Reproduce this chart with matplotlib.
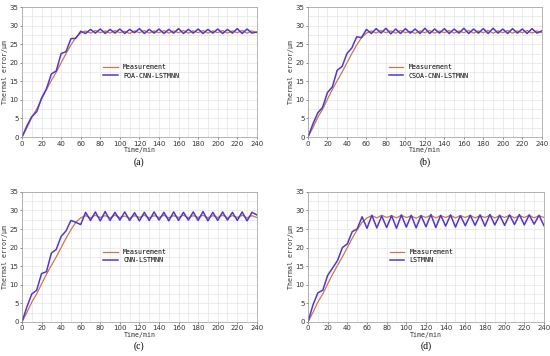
import numpy as np
import matplotlib
matplotlib.use("Agg")
import matplotlib.pyplot as plt

# Time axis (min), sampled every 5 min
time = list(range(0, 245, 5))

# Measured thermal error (um)
measurement = [0, 2.5, 5.3, 7.5, 10.2, 12.8, 15.2, 17.5, 20.0, 22.5, 24.8, 26.8, 28.0,
               28.6, 28.0, 28.7, 28.1, 28.6, 28.0, 28.7, 28.1, 28.5, 27.9, 28.6, 28.1,
               28.7, 28.0, 28.6, 28.1, 28.7, 28.0, 28.6, 28.1, 28.7, 28.0, 28.6, 28.1,
               28.7, 28.0, 28.6, 28.1, 28.7, 28.0, 28.6, 28.1, 28.7, 28.0, 28.6, 28.1]

poa_cnn_lstmnn = [0, 3.0, 5.5, 6.8, 10.5, 13.0, 17.0, 17.8, 22.5, 23.0, 26.5, 26.6, 28.5,
                  27.9, 29.0, 28.0, 29.1, 27.9, 29.0, 28.0, 29.1, 27.9, 29.0, 28.1, 29.2,
                  27.9, 29.0, 28.0, 29.1, 27.9, 29.0, 28.0, 29.2, 27.9, 29.0, 28.0, 29.1,
                  27.9, 29.0, 28.0, 29.1, 27.9, 29.0, 28.0, 29.2, 27.9, 29.1, 28.0, 28.3]

csoa_cnn_lstmnn = [0, 3.5, 6.5, 8.0, 12.0, 13.5, 18.0, 19.0, 22.5, 24.0, 27.0, 26.8, 29.0,
                   27.9, 29.2, 28.0, 29.3, 27.8, 29.1, 27.9, 29.2, 28.0, 29.1, 27.9, 29.3,
                   27.9, 29.1, 28.0, 29.2, 27.9, 29.1, 28.0, 29.3, 27.9, 29.1, 28.0, 29.2,
                   27.9, 29.3, 28.0, 29.1, 27.9, 29.2, 28.0, 29.1, 27.9, 29.2, 28.0, 28.6]

cnn_lstmnn = [0, 4.0, 7.5, 8.5, 13.0, 13.5, 18.5, 19.5, 23.0, 24.5, 27.3, 26.8, 26.2,
              29.5, 27.3, 29.6, 27.2, 29.7, 27.3, 29.5, 27.4, 29.6, 27.3, 29.4, 27.2,
              29.5, 27.3, 29.6, 27.4, 29.5, 27.2, 29.6, 27.3, 29.5, 27.4, 29.6, 27.3,
              29.7, 27.2, 29.5, 27.3, 29.6, 27.4, 29.5, 27.3, 29.6, 27.2, 29.5, 28.8]

lstmnn = [0, 4.5, 7.8, 8.5, 12.5, 14.5, 16.5, 20.0, 21.0, 24.3, 25.0, 28.3, 25.2,
          28.7, 25.3, 28.5, 25.4, 28.6, 25.2, 28.8, 25.5, 28.7, 25.3, 28.6, 25.6,
          28.9, 25.4, 28.7, 25.8, 28.8, 25.5, 28.6, 25.9, 28.7, 26.0, 28.8, 25.8,
          28.9, 26.1, 28.7, 26.0, 28.8, 26.2, 28.9, 26.1, 28.8, 26.3, 28.7, 25.9]

model_names = ["POA-CNN-LSTMNN", "CSOA-CNN-LSTMNN", "CNN-LSTMNN", "LSTMNN"]
predictions = [poa_cnn_lstmnn, csoa_cnn_lstmnn, cnn_lstmnn, lstmnn]
panel_tags = ["(a)", "(b)", "(c)", "(d)"]

# axes rectangles in figure fraction
rects = [[0.040, 0.615, 0.427, 0.365],
         [0.560, 0.615, 0.425, 0.365],
         [0.040, 0.096, 0.427, 0.365],
         [0.560, 0.096, 0.429, 0.365]]

fig = plt.figure(figsize=(5.5, 3.56), dpi=100)
mono = "DejaVu Sans Mono"

for rect, name, pred, tag in zip(rects, model_names, predictions, panel_tags):
    ax = fig.add_axes(rect)
    ax.plot(time, measurement, color="#c9774a", lw=0.9, label="Measurement")
    ax.plot(time, pred, color="#5038c8", lw=1.1, label=name)
    ax.set_xlim(0, 240)
    ax.set_ylim(0, 35)
    ax.set_xticks(np.arange(0, 241, 20))
    ax.set_yticks(np.arange(0, 36, 5))
    ax.set_xticks(np.arange(0, 241, 10), minor=True)
    ax.set_yticks(np.arange(0, 35.1, 2.5), minor=True)
    ax.grid(True, which="both", color="#e4e4e4", lw=0.5)
    ax.set_axisbelow(True)
    ax.tick_params(labelsize=5, length=1.5, width=0.4, pad=1, colors="#333333")
    ax.tick_params(which="minor", length=0)
    for s in ax.spines.values():
        s.set_color("#999999")
        s.set_linewidth(0.5)
    ax.set_xlabel("Time/min", fontsize=4.8, family=mono, labelpad=0.5, color="#333333")
    ax.set_ylabel("Thermal error/\u03bcm", fontsize=4.8, family=mono, labelpad=1, color="#333333")
    ax.legend(loc="center left", bbox_to_anchor=(0.32, 0.505), frameon=False,
              prop={"family": mono, "size": 4.8}, handlelength=2.2,
              labelspacing=0.35)
    ax.text(0.5, -0.19, tag, transform=ax.transAxes, ha="center", va="center",
            fontsize=7, family="Liberation Serif")

fig.savefig("out.png", dpi=100)
